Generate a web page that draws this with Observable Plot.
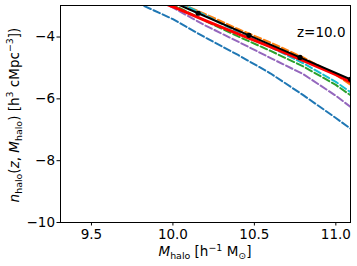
<!DOCTYPE html>
<html>
<head>
<meta charset="utf-8">
<script src="https://cdn.jsdelivr.net/npm/d3@7"></script>
<script src="https://cdn.jsdelivr.net/npm/@observablehq/plot@0.6"></script>
<style>
  html, body { margin: 0; padding: 0; background: white; }
</style>
</head>
<body>
<script>
// ---- data (log10 halo mass, log10 number density) ----
const mass = [9.6, 9.8, 10.0, 10.2, 10.4, 10.6, 10.8, 11.0, 11.1];
const nBlue   = [-2.48, -2.94, -3.42, -4.02, -4.58, -5.18, -5.88, -6.62, -7.00];
const nOrange = [-1.90, -2.30, -2.80, -3.26, -3.74, -4.18, -4.66, -5.22, -5.58];
const nGreen  = [-1.90, -2.40, -2.95, -3.48, -3.98, -4.45, -4.95, -5.55, -5.92];
const nPurple = [-2.00, -2.50, -3.05, -3.63, -4.15, -4.68, -5.20, -5.90, -6.30];
const nCyan   = [-1.80, -2.30, -2.78, -3.30, -3.85, -4.33, -4.85, -5.45, -5.82];
const nRed    = [-2.20, -2.60, -3.02, -3.47, -3.90, -4.32, -4.76, -5.22, -5.48];
const massSim = [9.845, 10.155, 10.467, 10.78, 11.09];
const nSim    = [-2.52, -3.23, -3.945, -4.66, -5.37];
const xTicks = [9.5, 10.0, 10.5, 11.0];
const yTicks = [-10, -8, -6, -4];
const redshiftLabel = "z=10.0";

const dashedSeries = [
  {name: "blue", color: "#1f77b4", values: nBlue},
  {name: "orange", color: "#ff7f0e", values: nOrange},
  {name: "green", color: "#2ca02c", values: nGreen},
  {name: "purple", color: "#9467bd", values: nPurple},
  {name: "cyan", color: "#17becf", values: nCyan}
];
const toRows = (xs, ys) => xs.map((x, i) => ({x, y: ys[i]}));
const simRows = toRows(massSim, nSim);
const redRows = toRows(mass, nRed);

const FS = 13.5;
const chart = Plot.plot({
  width: 357,
  height: 266,
  marginLeft: 60,
  marginRight: 7,
  marginTop: 5,
  marginBottom: 44,
  style: {fontFamily: "DejaVu Sans", fontSize: FS + "px", background: "white", color: "black"},
  x: {domain: [9.31, 11.09]},
  y: {domain: [-10, -2.98]},
  marks: [
    ...dashedSeries.map(s => Plot.line(toRows(mass, s.values), {
      x: "x", y: "y", stroke: s.color, strokeWidth: 2, strokeDasharray: "7,3", clip: true
    })),
    Plot.line(redRows, {x: "x", y: "y", stroke: "red", strokeWidth: 3, clip: true}),
    Plot.line(simRows, {x: "x", y: "y", stroke: "black", strokeWidth: 2, clip: true}),
    Plot.dot(simRows, {x: "x", y: "y", r: 2.6, fill: "black", stroke: "none", clip: true}),
    Plot.text([redshiftLabel], {frameAnchor: "top-right", dx: -5, dy: 27, lineAnchor: "middle", textAnchor: "end", fontSize: FS, fill: "black"}),
    Plot.axisX({ticks: xTicks, tickFormat: d => d.toFixed(1), tickSize: 3.5, tickPadding: 3.5, label: null, fontSize: FS}),
    Plot.axisY({ticks: yTicks, tickFormat: d => (d < 0 ? "\u2212" : "") + Math.abs(d), tickSize: 3.5, tickPadding: 2, label: null, fontSize: FS}),
    Plot.frame({stroke: "black", strokeWidth: 1})
  ]
});
document.body.append(chart);

// ---- axis titles with sub/superscripts ----
function richText(sel, parts) {
  let shift = 0;
  parts.forEach(([t, kind]) => {
    const ts = sel.append("tspan").text(t);
    let target = 0;
    if (kind === "sub") { target = 3.2; ts.attr("font-size", FS * 0.7); }
    if (kind === "sup") { target = -5.5; ts.attr("font-size", FS * 0.7); }
    if (kind === "i") ts.attr("font-style", "italic");
    if (target !== shift) { ts.attr("dy", target - shift); shift = target; }
  });
}
const svg = d3.select(chart);
const g = svg.append("g").attr("font-family", "DejaVu Sans").attr("font-size", FS).attr("fill", "black");
const xl = g.append("text").attr("x", 205).attr("y", 256).attr("text-anchor", "middle");
richText(xl, [["M", "i"], ["halo", "sub"], [" [h", ""], ["\u22121", "sup"], [" M", ""], ["\u2299", "sub"], ["]", ""]]);
const yl = g.append("text").attr("transform", "translate(18.5,115) rotate(-90)").attr("text-anchor", "middle");
richText(yl, [["n", "i"], ["halo", "sub"], ["(", ""], ["z", "i"], [", ", ""], ["M", "i"], ["halo", "sub"], [") [h", ""], ["3", "sup"], [" cMpc", ""], ["\u22123", "sup"], ["])", ""]]);
</script>
</body>
</html>
